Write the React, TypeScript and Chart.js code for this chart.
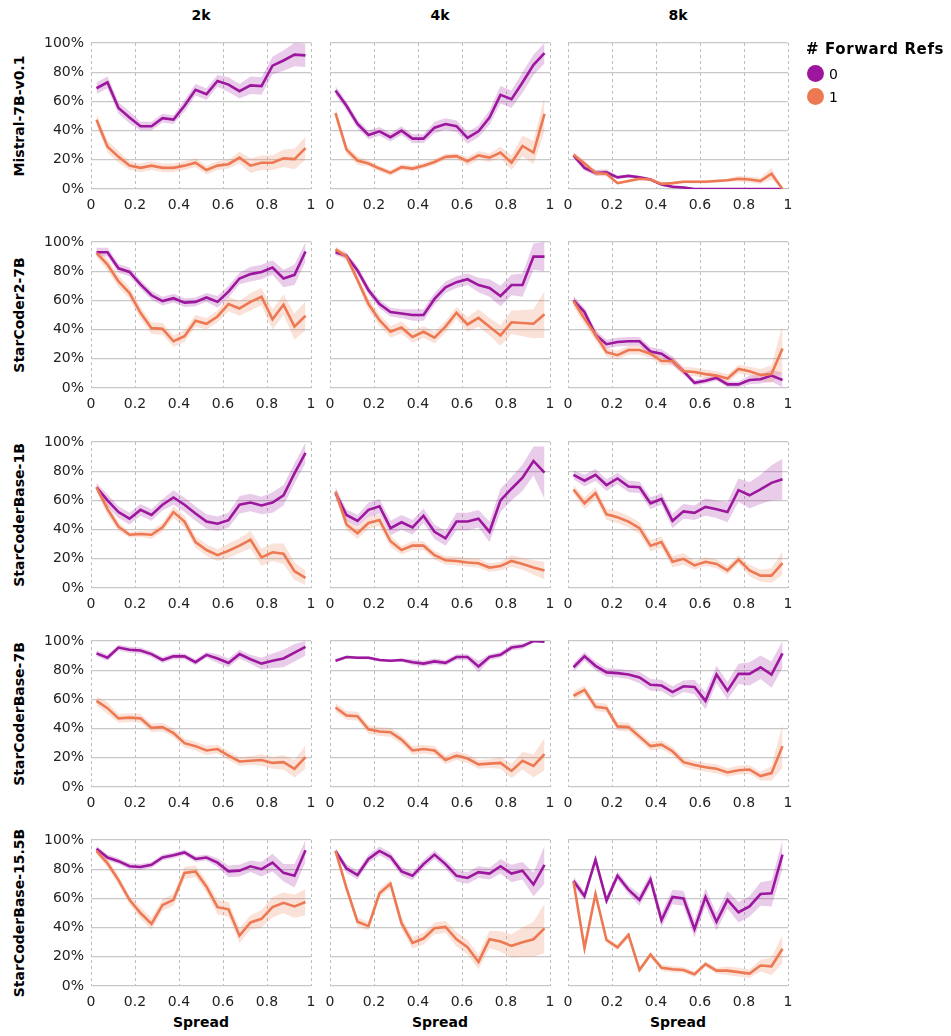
import React, { useEffect, useRef } from "react";
import { Chart, registerables } from "chart.js";

Chart.register(...registerables);

// ---------------- DATA ----------------
const contexts = ["2k", "4k", "8k"];
const models = ["Mistral-7B-v0.1", "StarCoder2-7B", "StarCoderBase-1B", "StarCoderBase-7B", "StarCoderBase-15.5B"];
const legendTitle = "# Forward Refs";
const refLabels = ["0", "1"];
const xAxisTitle = "Spread";
const spreadBins = [0.025, 0.075, 0.125, 0.175, 0.225, 0.275, 0.325, 0.375, 0.425, 0.475, 0.525, 0.575, 0.625, 0.675, 0.725, 0.775, 0.825, 0.875, 0.925, 0.975];
const xTickLabels = ["0", "0.2", "0.4", "0.6", "0.8", "1"];
const yTickLabels = ["0%", "20%", "40%", "60%", "80%", "100%"];

// Mistral-7B-v0.1
const mistral2k_ref0 = [69, 73, 55.5, 49, 43, 43, 48.5, 47.5, 57, 68, 65, 74, 71.5, 67, 71, 70.5, 84.5, 88, 92, 91.5];
const mistral2k_ref1 = [47.5, 29, 22, 16, 14.5, 16, 14.5, 14.5, 16, 18, 13, 16, 17, 21.5, 16, 18, 18, 21, 20.5, 28];
const mistral2k_ci0 = [4, 4, 4, 4, 3, 3, 3, 3, 4, 4, 4, 4, 5, 5, 6, 6, 6, 7, 8, 8];
const mistral2k_ci1 = [4, 4, 4, 3, 3, 3, 3, 3, 3, 3, 3, 3, 3, 4, 5, 5, 5, 6, 7, 8];
const mistral4k_ref0 = [67.5, 57, 44.5, 37, 39.5, 35.5, 40, 34.5, 34.5, 42, 44.5, 43, 35, 39.5, 49, 64.5, 61.5, 73, 85, 93];
const mistral4k_ref1 = [52, 27, 19.5, 17.5, 14, 11, 15, 14, 16, 18.5, 22, 22.5, 19, 23, 21.5, 25, 18, 29.5, 25, 51.5];
const mistral4k_ci0 = [3, 3, 3, 3, 3, 3, 3, 3, 3, 4, 4, 4, 4, 4, 5, 6, 6, 7, 7, 7];
const mistral4k_ci1 = [4, 3, 3, 2, 2, 2, 2, 2, 2, 2, 2, 2, 3, 3, 3, 4, 5, 7, 8, 12];
const mistral8k_ref0 = [23, 14.5, 11, 11.5, 8, 9, 8, 6.5, 3, 1.5, 1, 0, 0, 0, 0, 0, 0, 0, 0, 0];
const mistral8k_ref1 = [23.5, 17.5, 11, 10.5, 4, 5.5, 7, 6.5, 3.5, 4, 5, 5, 5, 5.5, 6, 7, 6.5, 5.5, 10.5, 0];
const mistral8k_ci0 = [2, 2, 2, 2, 1, 1, 1, 1, 1, 1, 1, 0, 0, 0, 0, 0, 0, 0, 0, 0];
const mistral8k_ci1 = [2, 2, 2, 2, 1, 1, 1, 1, 1, 1, 1, 1, 1, 1, 1, 2, 2, 2, 4, 0];

// StarCoder2-7B
const sc2_2k_ref0 = [93, 93, 82, 79.5, 71, 63.5, 59.5, 61.5, 58.5, 59, 62, 59, 66, 75, 78, 79.5, 82.5, 75, 77.5, 93.5];
const sc2_2k_ref1 = [92.5, 84.5, 73, 65, 51.5, 41, 40.5, 32, 35.5, 46, 44, 49, 57.5, 54.5, 59, 62.5, 47, 57, 42, 49.5];
const sc2_2k_ci0 = [3, 3, 3, 3, 3, 3, 3, 3, 3, 3, 3, 4, 4, 4, 5, 5, 5, 6, 7, 7];
const sc2_2k_ci1 = [3, 4, 4, 4, 4, 4, 4, 4, 4, 4, 4, 4, 5, 5, 6, 6, 7, 7, 9, 10];
const sc2_4k_ref0 = [93, 90.5, 80.5, 67, 57.5, 52, 51, 50, 50, 61, 69, 72.5, 74.5, 70.5, 68.5, 63, 70.5, 70.5, 90, 90];
const sc2_4k_ref1 = [95, 90, 74, 57.5, 46.5, 38.5, 41.5, 35, 38.5, 34.5, 42, 51.5, 43.5, 48, 42, 36, 45, 44.5, 44, 50.5];
const sc2_4k_ci0 = [2, 2, 3, 3, 3, 3, 3, 4, 4, 4, 4, 4, 4, 5, 6, 7, 7, 8, 9, 10];
const sc2_4k_ci1 = [2, 3, 3, 4, 4, 4, 4, 4, 4, 4, 4, 4, 5, 6, 6, 7, 8, 9, 10, 16];
const sc2_8k_ref0 = [60, 52, 36.5, 30, 31.5, 32, 32, 25, 23.5, 18.5, 11.5, 3.5, 5, 7, 2.5, 2.5, 5.5, 6, 8.5, 5.5];
const sc2_8k_ref1 = [59.5, 47.5, 36.5, 24.5, 22.5, 26, 26, 23.5, 18.5, 18.5, 11.5, 11, 9.5, 8.5, 6.5, 13, 11.5, 9, 9.5, 27];
const sc2_8k_ci0 = [3, 3, 3, 3, 3, 3, 3, 3, 3, 3, 2, 2, 2, 2, 2, 2, 3, 3, 4, 5];
const sc2_8k_ci1 = [4, 4, 4, 3, 3, 3, 3, 3, 3, 3, 3, 3, 3, 3, 3, 3, 3, 4, 6, 16];

// StarCoderBase-1B
const scb1_2k_ref0 = [69, 60, 52, 47.5, 53.5, 50, 57, 62, 57, 51, 45.5, 44, 46.5, 57, 58.5, 56.5, 58.5, 63.5, 78.5, 92.5];
const scb1_2k_ref1 = [69, 54, 42, 36.5, 37, 36.5, 41.5, 52, 45.5, 31.5, 26, 22.5, 25.5, 29, 33, 21, 24.5, 23.5, 11.5, 7];
const scb1_2k_ci0 = [3, 4, 4, 4, 4, 4, 4, 5, 5, 5, 5, 5, 5, 6, 6, 6, 7, 7, 7, 7];
const scb1_2k_ci1 = [3, 4, 3, 2, 2, 3, 3, 4, 4, 4, 4, 4, 5, 5, 6, 6, 6, 7, 6, 5];
const scb1_4k_ref0 = [65, 50, 46, 53.5, 56, 41, 45, 41.5, 49.5, 38.5, 34, 45.5, 45.5, 47.5, 38.5, 60, 68, 75.5, 87, 79];
const scb1_4k_ref1 = [66, 43.5, 37.5, 44.5, 46.5, 32, 26, 29, 29, 22.5, 19, 18.5, 17.5, 17, 14, 15, 18.5, 16.5, 14, 12];
const scb1_4k_ci0 = [4, 4, 4, 5, 5, 5, 5, 5, 5, 5, 5, 6, 6, 6, 7, 8, 8, 9, 10, 18];
const scb1_4k_ci1 = [3, 4, 4, 4, 4, 4, 3, 3, 3, 3, 3, 3, 3, 3, 3, 3, 4, 4, 5, 6];
const scb1_8k_ref0 = [77.5, 73.5, 77.5, 70.5, 75, 69.5, 69, 58, 61, 46, 52.5, 51.5, 55.5, 54, 52, 67, 63.5, 67.5, 72, 74.5];
const scb1_8k_ref1 = [67.5, 58, 65, 50.5, 48.5, 45.5, 41, 29, 31.5, 18, 20, 15.5, 18, 16.5, 12, 19.5, 12, 8.5, 8.5, 17];
const scb1_8k_ci0 = [3, 4, 4, 4, 4, 4, 4, 4, 4, 5, 5, 5, 6, 6, 7, 8, 9, 10, 12, 14];
const scb1_8k_ci1 = [3, 4, 4, 4, 4, 4, 4, 4, 4, 4, 4, 3, 3, 3, 3, 3, 4, 4, 5, 8];

// StarCoderBase-7B
const scb7_2k_ref0 = [91.5, 88.5, 95.5, 94, 93.5, 91, 87, 89.5, 89.5, 85.5, 90.5, 88, 85, 91, 87.5, 84.5, 86.5, 88, 92, 96];
const scb7_2k_ref1 = [59, 54, 47, 47.5, 47, 40.5, 41, 37, 30, 28, 25, 26, 21.5, 17.5, 18, 18.5, 16.5, 17, 12.5, 20.5];
const scb7_2k_ci0 = [2, 2, 2, 2, 2, 2, 2, 2, 2, 2, 2, 3, 3, 3, 3, 4, 5, 6, 6, 6];
const scb7_2k_ci1 = [3, 4, 3, 3, 3, 3, 3, 3, 3, 3, 3, 3, 3, 3, 3, 4, 4, 5, 6, 8];
const scb7_4k_ref0 = [86.5, 89, 88.5, 88.5, 87, 86.5, 87, 85.5, 84.5, 86, 85, 89, 89, 82.5, 89, 90.5, 95.5, 96.5, 100, 99.5];
const scb7_4k_ref1 = [54.5, 49, 48.5, 39.5, 38, 37.5, 32.5, 25, 26, 25, 18.5, 21.5, 19.5, 15.5, 16, 16.5, 11, 18, 14.5, 22.5];
const scb7_4k_ci0 = [1, 1, 1, 1, 1, 1, 1, 2, 2, 2, 2, 2, 2, 4, 2, 2, 2, 2, 1, 1];
const scb7_4k_ci1 = [3, 3, 3, 3, 3, 3, 3, 3, 3, 3, 3, 3, 3, 3, 3, 4, 5, 6, 8, 11];
const scb7_8k_ref0 = [82, 89.5, 83, 78.5, 78, 77, 75, 70, 69.5, 65, 69, 68.5, 59, 77, 66, 77.5, 77.5, 82, 77, 91.5];
const scb7_8k_ref1 = [62.5, 66.5, 55, 54, 41.5, 41, 34.5, 28, 29, 24.5, 17, 15, 13.5, 12.5, 10, 11.5, 12, 7.5, 9.5, 28];
const scb7_8k_ci0 = [3, 3, 3, 3, 3, 3, 4, 4, 4, 4, 4, 5, 6, 6, 6, 7, 8, 8, 9, 10];
const scb7_8k_ci1 = [3, 3, 3, 3, 3, 3, 3, 3, 3, 3, 3, 3, 3, 3, 3, 3, 3, 3, 5, 15];

// StarCoderBase-15.5B
const scb15_2k_ref0 = [94, 88, 85.5, 82, 81.5, 83, 88, 89.5, 91.5, 87, 88, 84.5, 78.5, 79, 82, 80, 84.5, 77.5, 75.5, 93];
const scb15_2k_ref1 = [92.5, 84, 72.5, 59, 50, 42.5, 55.5, 59, 77.5, 78.5, 68, 54, 52.5, 34.5, 43.5, 46, 54, 57, 54.5, 57.5];
const scb15_2k_ci0 = [2, 2, 2, 2, 2, 2, 2, 2, 2, 2, 2, 3, 4, 4, 4, 5, 6, 6, 8, 8];
const scb15_2k_ci1 = [2, 3, 3, 3, 4, 4, 4, 4, 4, 4, 4, 5, 5, 5, 5, 6, 7, 7, 8, 9];
const scb15_4k_ref0 = [92.5, 80.5, 76, 87, 92.5, 88.5, 78.5, 75.5, 83.5, 90, 83.5, 75.5, 74, 78, 77, 82, 77, 79, 69.5, 83];
const scb15_4k_ref1 = [92.5, 67, 44, 41, 63.5, 70, 43, 29.5, 32.5, 39.5, 40.5, 32, 26.5, 16.5, 32, 30.5, 27.5, 30, 32, 39.5];
const scb15_4k_ci0 = [2, 3, 3, 3, 3, 3, 3, 3, 3, 3, 3, 4, 4, 4, 4, 5, 6, 6, 8, 13];
const scb15_4k_ci1 = [2, 3, 3, 3, 3, 3, 4, 4, 4, 4, 4, 5, 5, 5, 6, 7, 8, 10, 12, 17];
const scb15_8k_ref0 = [72, 61.5, 86.5, 58.5, 75.5, 66, 59, 73, 45, 61, 60, 39, 61, 44, 59, 50.5, 54.5, 63, 63.5, 90];
const scb15_8k_ref1 = [71.5, 26, 63, 31.5, 26.5, 35, 11, 21.5, 12.5, 11.5, 11, 8, 15, 10.5, 10.5, 9.5, 8.5, 14, 13.5, 25.5];
const scb15_8k_ci0 = [3, 3, 3, 3, 3, 3, 4, 4, 5, 5, 5, 6, 6, 6, 6, 7, 7, 8, 9, 10];
const scb15_8k_ci1 = [2, 2, 2, 2, 2, 2, 2, 2, 2, 2, 2, 2, 2, 2, 3, 3, 3, 4, 6, 10];

// panel table [row][col] -> [ref0, ref1, ci0, ci1]
const panels = [
  [
    [mistral2k_ref0, mistral2k_ref1, mistral2k_ci0, mistral2k_ci1],
    [mistral4k_ref0, mistral4k_ref1, mistral4k_ci0, mistral4k_ci1],
    [mistral8k_ref0, mistral8k_ref1, mistral8k_ci0, mistral8k_ci1],
  ],
  [
    [sc2_2k_ref0, sc2_2k_ref1, sc2_2k_ci0, sc2_2k_ci1],
    [sc2_4k_ref0, sc2_4k_ref1, sc2_4k_ci0, sc2_4k_ci1],
    [sc2_8k_ref0, sc2_8k_ref1, sc2_8k_ci0, sc2_8k_ci1],
  ],
  [
    [scb1_2k_ref0, scb1_2k_ref1, scb1_2k_ci0, scb1_2k_ci1],
    [scb1_4k_ref0, scb1_4k_ref1, scb1_4k_ci0, scb1_4k_ci1],
    [scb1_8k_ref0, scb1_8k_ref1, scb1_8k_ci0, scb1_8k_ci1],
  ],
  [
    [scb7_2k_ref0, scb7_2k_ref1, scb7_2k_ci0, scb7_2k_ci1],
    [scb7_4k_ref0, scb7_4k_ref1, scb7_4k_ci0, scb7_4k_ci1],
    [scb7_8k_ref0, scb7_8k_ref1, scb7_8k_ci0, scb7_8k_ci1],
  ],
  [
    [scb15_2k_ref0, scb15_2k_ref1, scb15_2k_ci0, scb15_2k_ci1],
    [scb15_4k_ref0, scb15_4k_ref1, scb15_4k_ci0, scb15_4k_ci1],
    [scb15_8k_ref0, scb15_8k_ref1, scb15_8k_ci0, scb15_8k_ci1],
  ],
];

// ---------------- STYLE / LAYOUT ----------------
const FONT = "'DejaVu Sans', Verdana, sans-serif";
const COLORS = ["#9c179e", "#ed7953"];
const BANDS = ["rgba(156,23,158,0.22)", "rgba(237,121,83,0.22)"];
const PLOT_LEFT = [91, 330, 568];
const PLOT_W = 220;
const PLOT_TOP = [43, 242, 442, 641, 840];
const PLOT_H = 146;
const AX_W = 50;
const PAD_TOP = 20;
const PAD_RIGHT = 20;
const AX_H = 26;

function Panel({ r, c }: { r: number; c: number }) {
  const ref = useRef<HTMLCanvasElement | null>(null);
  useEffect(() => {
    const canvas = ref.current;
    if (!canvas) return;
    const [v0, v1, ci0, ci1] = panels[r][c];
    const line = (v: number[]) => spreadBins.map((x, i) => ({ x, y: v[i] }));
    const upper = (v: number[], ci: number[]) => spreadBins.map((x, i) => ({ x, y: Math.min(100, v[i] + ci[i]) }));
    const lower = (v: number[], ci: number[]) => spreadBins.map((x, i) => ({ x, y: Math.max(0, v[i] - ci[i]) }));
    const base = { pointRadius: 0, pointHoverRadius: 0, tension: 0 };
    const chart = new Chart(canvas, {
      type: "line",
      data: {
        datasets: [
          { ...base, label: refLabels[1], data: line(v1), borderColor: COLORS[1], borderWidth: 2.6, fill: false },
          { ...base, label: refLabels[0], data: line(v0), borderColor: COLORS[0], borderWidth: 2.6, fill: false },
          { ...base, label: "u1", data: upper(v1, ci1), borderWidth: 0, borderColor: "rgba(0,0,0,0)", backgroundColor: BANDS[1], fill: "+1" },
          { ...base, label: "l1", data: lower(v1, ci1), borderWidth: 0, borderColor: "rgba(0,0,0,0)", fill: false },
          { ...base, label: "u0", data: upper(v0, ci0), borderWidth: 0, borderColor: "rgba(0,0,0,0)", backgroundColor: BANDS[0], fill: "+1" },
          { ...base, label: "l0", data: lower(v0, ci0), borderWidth: 0, borderColor: "rgba(0,0,0,0)", fill: false },
        ],
      },
      options: {
        animation: false,
        responsive: false,
        maintainAspectRatio: false,
        events: [],
        layout: { padding: { top: PAD_TOP, right: PAD_RIGHT, left: 0, bottom: 0 } },
        plugins: { legend: { display: false }, tooltip: { enabled: false } },
        scales: {
          x: {
            type: "linear",
            min: 0,
            max: 1,
            border: { display: false, dash: [3, 3] },
            grid: { color: "#bdbdbd", lineWidth: 1, drawTicks: false },
            ticks: {
              stepSize: 0.2,
              autoSkip: false,
              maxRotation: 0,
              padding: 8,
              color: "#222",
              font: { family: FONT, size: 14 },
              callback: (_v: any, i: number) => xTickLabels[i],
            },
            afterFit: (s: any) => { s.height = AX_H; },
          },
          y: {
            min: 0,
            max: 100,
            border: { display: false },
            grid: { color: "#c8c8c8", lineWidth: 1.2, drawTicks: false },
            ticks: {
              display: c === 0,
              stepSize: 20,
              padding: 7,
              color: "#222",
              font: { family: FONT, size: 14 },
              callback: (_v: any, i: number) => yTickLabels[i],
            },
            afterFit: (s: any) => { s.width = AX_W; },
          },
        },
      },
    } as any);
    return () => chart.destroy();
  }, [r, c]);
  const w = AX_W + PLOT_W + PAD_RIGHT;
  const h = PAD_TOP + PLOT_H + AX_H;
  return (
    <canvas
      ref={ref}
      width={w}
      height={h}
      style={{ position: "absolute", left: PLOT_LEFT[c] - AX_W, top: PLOT_TOP[r] - PAD_TOP, width: w, height: h }}
    />
  );
}

export default function App() {
  const text: React.CSSProperties = { position: "absolute", fontFamily: FONT, fontSize: 14, color: "#000", whiteSpace: "nowrap" };
  return (
    <div style={{ position: "absolute", left: 0, top: 0, width: 951, height: 1036, background: "#fff" }}>
      {contexts.map((t, c) => (
        <div key={"ct" + c} style={{ ...text, fontWeight: "bold", left: PLOT_LEFT[c] + PLOT_W / 2, top: 15, transform: "translate(-50%,-50%)" }}>{t}</div>
      ))}
      {contexts.map((_t, c) => (
        <div key={"xt" + c} style={{ ...text, fontWeight: "bold", left: PLOT_LEFT[c] + PLOT_W / 2, top: 1022, transform: "translate(-50%,-50%)" }}>{xAxisTitle}</div>
      ))}
      {models.map((m, r) => (
        <div key={"rl" + r} style={{ ...text, fontWeight: "bold", left: 19, top: PLOT_TOP[r] + PLOT_H / 2, transform: "translate(-50%,-50%) rotate(-90deg)" }}>{m}</div>
      ))}
      {models.map((_m, r) => contexts.map((_c, c) => <Panel key={r + "-" + c} r={r} c={c} />))}
      <div style={{ ...text, fontWeight: "bold", fontSize: 15, letterSpacing: 0.6, left: 806, top: 49, transform: "translateY(-50%)" }}>{legendTitle}</div>
      {refLabels.map((l, i) => (
        <React.Fragment key={"lg" + i}>
          <div style={{ position: "absolute", left: 807, top: 65 + i * 23, width: 17, height: 17, borderRadius: "50%", background: COLORS[i] }} />
          <div style={{ ...text, left: 829, top: 73.5 + i * 23, transform: "translateY(-50%)" }}>{l}</div>
        </React.Fragment>
      ))}
    </div>
  );
}
